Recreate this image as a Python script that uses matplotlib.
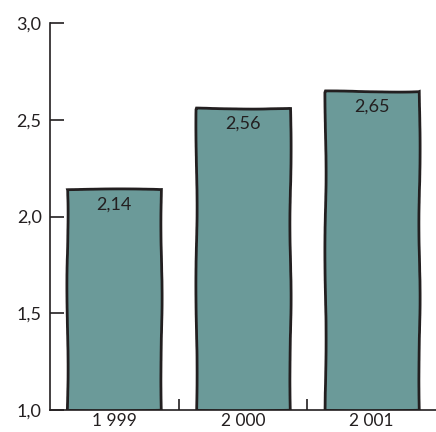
"""Bar chart: yearly values 1999-2001, hand-drawn look."""

import matplotlib

matplotlib.use("Agg")

import matplotlib.pyplot as plt
import numpy as np

years = ["1 999", "2 000", "2 001"]
values = [2.14, 2.56, 2.65]
value_labels = ["2,14", "2,56", "2,65"]
y_ticks = [1.0, 1.5, 2.0, 2.5, 3.0]
y_tick_labels = ["1,0", "1,5", "2,0", "2,5", "3,0"]

BAR_COLOR = "#6b9a99"
INK = "#231f20"

plt.rcParams["font.family"] = ["Lato", "DejaVu Sans"]

fig = plt.figure(figsize=(4.36, 4.32), dpi=100)
ax = fig.add_axes([50 / 436, 22 / 432, 386 / 436, 387 / 432])

x = np.arange(len(years))
bars = ax.bar(x, np.array(values) - 1.0, bottom=1.0, width=0.73,
              color=BAR_COLOR, edgecolor=INK, linewidth=2.0, zorder=2)
for bar in bars:
    bar.set_sketch_params(scale=0.6, length=200, randomness=3)

for xi, v, lab in zip(x, values, value_labels):
    ax.text(xi, v - 0.08, lab, ha="center", va="center",
            fontsize=13, color=INK, zorder=3)

ax.set_xlim(-0.5, 2.5)
ax.set_ylim(1.0, 3.0)
ax.set_yticks(y_ticks)
ax.set_yticklabels(y_tick_labels, fontsize=13, color=INK)
ax.set_xticks(x)
ax.set_xticklabels(years, fontsize=12.5, color=INK)
ax.tick_params(axis="x", length=0, pad=2.5)
ax.tick_params(axis="y", direction="in", length=10, width=1.2, color=INK, pad=6)
ax.set_xticks([0.5, 1.5], minor=True)
ax.tick_params(axis="x", which="minor", direction="in", length=8, width=1.2, color=INK)

for side in ["top", "right"]:
    ax.spines[side].set_visible(False)
for side in ["left", "bottom"]:
    ax.spines[side].set_color(INK)
    ax.spines[side].set_linewidth(1.2)

fig.savefig("out.png", dpi=100)
